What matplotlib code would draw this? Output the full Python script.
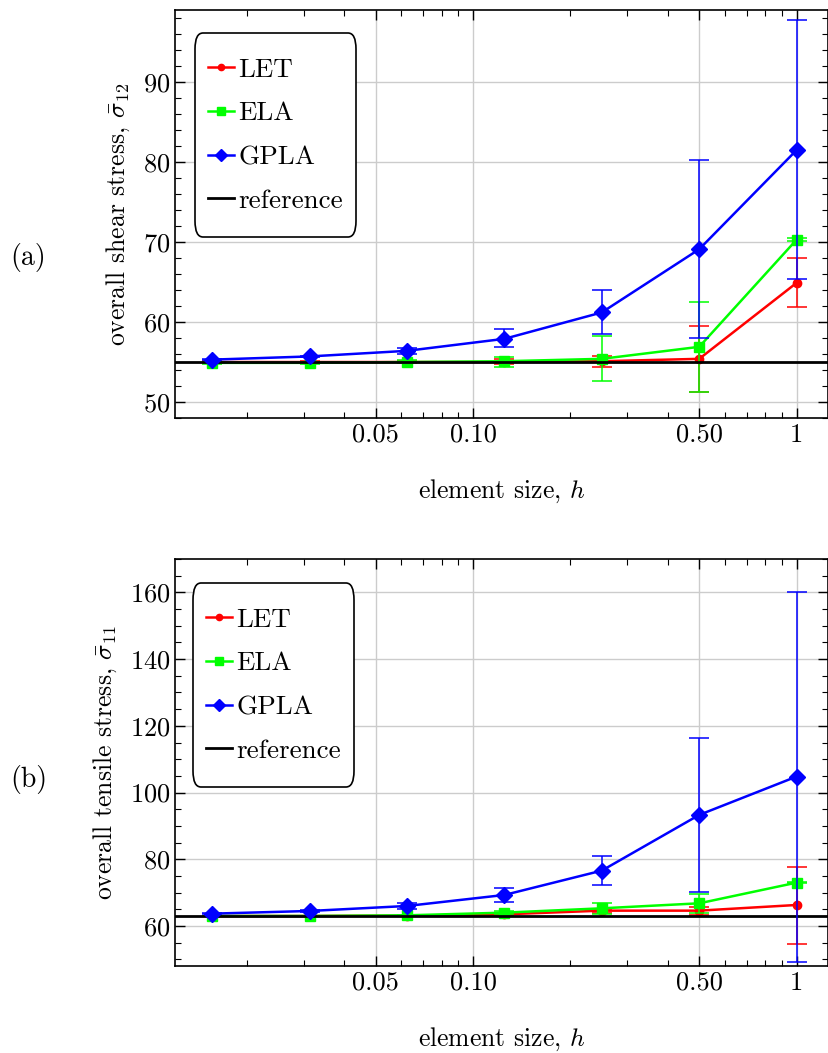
import numpy as np
import matplotlib
matplotlib.use('Agg')
import matplotlib.pyplot as plt
from matplotlib.lines import Line2D
from matplotlib.ticker import FixedLocator, MultipleLocator, NullFormatter

plt.rcParams['font.family'] = 'serif'
plt.rcParams['font.serif'] = ['cmr10']
plt.rcParams['mathtext.fontset'] = 'cm'
plt.rcParams['axes.formatter.use_mathtext'] = True

# element sizes
h = [1/64, 1/32, 1/16, 1/8, 1/4, 1/2, 1]

# (a) shear
ref_a = 55.0
let_a = [55.0, 55.0, 55.0, 55.0, 55.1, 55.4, 64.9]
let_a_lo = [54.9, 54.9, 54.9, 54.7, 54.4, 51.3, 61.9]
let_a_hi = [55.1, 55.1, 55.1, 55.4, 55.7, 59.5, 68.0]
ela_a = [54.9, 54.9, 55.0, 55.1, 55.4, 56.9, 70.3]
ela_a_lo = [54.8, 54.8, 54.9, 54.4, 52.6, 51.3, 70.1]
ela_a_hi = [55.0, 55.0, 55.2, 55.6, 58.3, 62.5, 70.5]
gpla_a = [55.3, 55.7, 56.4, 57.9, 61.2, 69.1, 81.5]
gpla_a_lo = [55.2, 55.6, 56.0, 56.9, 58.5, 58.0, 65.4]
gpla_a_hi = [55.4, 55.8, 56.7, 59.1, 64.0, 80.2, 97.7]

# (b) tensile
ref_b = 63.0
let_b = [63.0, 63.0, 63.1, 63.5, 64.6, 64.6, 66.3]
let_b_lo = [62.9, 62.9, 63.0, 63.2, 64.0, 63.4, 54.6]
let_b_hi = [63.1, 63.1, 63.2, 63.8, 65.2, 65.8, 77.8]
ela_b = [63.0, 63.0, 63.2, 64.0, 65.3, 66.8, 73.0]
ela_b_lo = [62.9, 62.9, 63.0, 63.6, 63.5, 63.9, 72.8]
ela_b_hi = [63.1, 63.1, 63.4, 64.4, 67.0, 69.6, 73.2]
gpla_b = [63.7, 64.5, 66.0, 69.3, 76.6, 93.3, 104.8]
gpla_b_lo = [63.5, 64.3, 65.1, 67.2, 72.3, 70.1, 49.3]
gpla_b_hi = [63.9, 64.7, 66.8, 71.5, 81.0, 116.5, 160.1]

x_ticks = [0.05, 0.1, 0.5, 1]
x_ticklabels = ['0.05', '0.10', '0.50', '1']

RED, GREEN, BLUE = '#ff0000', '#00ff00', '#0000ff'


def err(y, lo, hi):
  y = np.array(y)
  return [y - np.array(lo), np.array(hi) - y]


def panel(ax, let, let_lo, let_hi, ela, ela_lo, ela_hi, gpla, gpla_lo, gpla_hi, ref,
          ylim, yticks, yminor, ylabel, leg_anchor):
  kw = dict(lw=1.8, elinewidth=1.1, capsize=7.5, capthick=1.1)
  ax.errorbar(h, let, yerr=err(let, let_lo, let_hi), color=RED, marker='o', ms=6,
              zorder=3, **kw)
  ax.errorbar(h, ela, yerr=err(ela, ela_lo, ela_hi), color=GREEN, marker='s', ms=7.5,
              zorder=3.1, **kw)
  ax.axhline(ref, color='black', lw=2, zorder=3.2)
  ax.errorbar(h, gpla, yerr=err(gpla, gpla_lo, gpla_hi), color=BLUE, marker='D', ms=8,
              zorder=3.3, **kw)

  ax.set_xscale('log')
  ax.set_xlim(0.0120, 1.25)
  ax.set_ylim(*ylim)
  ax.xaxis.set_major_locator(FixedLocator(x_ticks))
  ax.set_xticklabels(x_ticklabels)
  ax.xaxis.set_minor_locator(FixedLocator([0.02, 0.03, 0.04, 0.06, 0.07, 0.08, 0.09,
                                           0.2, 0.3, 0.4, 0.6, 0.7, 0.8, 0.9]))
  ax.xaxis.set_minor_formatter(NullFormatter())
  ax.set_yticks(yticks)
  ax.yaxis.set_minor_locator(MultipleLocator(yminor))
  ax.tick_params(which='both', direction='in', top=True, right=True, labelsize=19)
  ax.tick_params(which='major', length=7, width=1)
  ax.tick_params(which='minor', length=4, width=0.8)
  ax.grid(True, which='major', color='#cccccc', lw=1)
  ax.set_axisbelow(True)
  for s in ax.spines.values():
    s.set_linewidth(1.2)

  ax.set_xlabel('element size, $h$', fontsize=18.5, labelpad=22.5)
  ax.set_ylabel(ylabel, fontsize=18.5, labelpad=8)

  # legend without error bars
  handles = [Line2D([], [], color=RED, marker='o', ms=4.5, lw=1.8),
             Line2D([], [], color=GREEN, marker='s', ms=6, lw=1.8),
             Line2D([], [], color=BLUE, marker='D', ms=6, lw=1.8),
             Line2D([], [], color='black', lw=2)]
  leg = ax.legend(handles, ['LET', 'ELA', 'GPLA', 'reference'],
                  loc='upper left', bbox_to_anchor=leg_anchor, borderaxespad=0,
                  fontsize=19.5, handlelength=0.95, handletextpad=0.15, labelspacing=0.73,
                  borderpad=0.1, framealpha=1, edgecolor='black')
  frame = leg.get_frame()
  frame.set_linewidth(1.2)
  frame.set_boxstyle('round,pad=0.4,rounding_size=0.3')
  frame.set_mutation_aspect(2.0)


fig = plt.figure(figsize=(8.29, 10.53), dpi=100)
ax1 = fig.add_axes([0.2111, 0.6030, 0.7877, 0.3875])
ax2 = fig.add_axes([0.2111, 0.0826, 0.7877, 0.3865])

panel(ax1, let_a, let_a_lo, let_a_hi, ela_a, ela_a_lo, ela_a_hi, gpla_a, gpla_a_lo, gpla_a_hi,
      ref_a, (48, 99), [50, 60, 70, 80, 90], 2, r'overall shear stress, $\bar{\sigma}_{12}$',
      (0.047, 0.890))
panel(ax2, let_b, let_b_lo, let_b_hi, ela_b, ela_b_lo, ela_b_hi, gpla_b, gpla_b_lo, gpla_b_hi,
      ref_b, (48, 170), [60, 80, 100, 120, 140, 160], 5,
      r'overall tensile stress, $\bar{\sigma}_{11}$', (0.044, 0.887))

fig.text(10 / 829, 1 - 258 / 1053, '(a)', fontsize=20, ha='left', va='center')
fig.text(10 / 829, 1 - 780 / 1053, '(b)', fontsize=20, ha='left', va='center')

fig.savefig('out.png', dpi=100)
